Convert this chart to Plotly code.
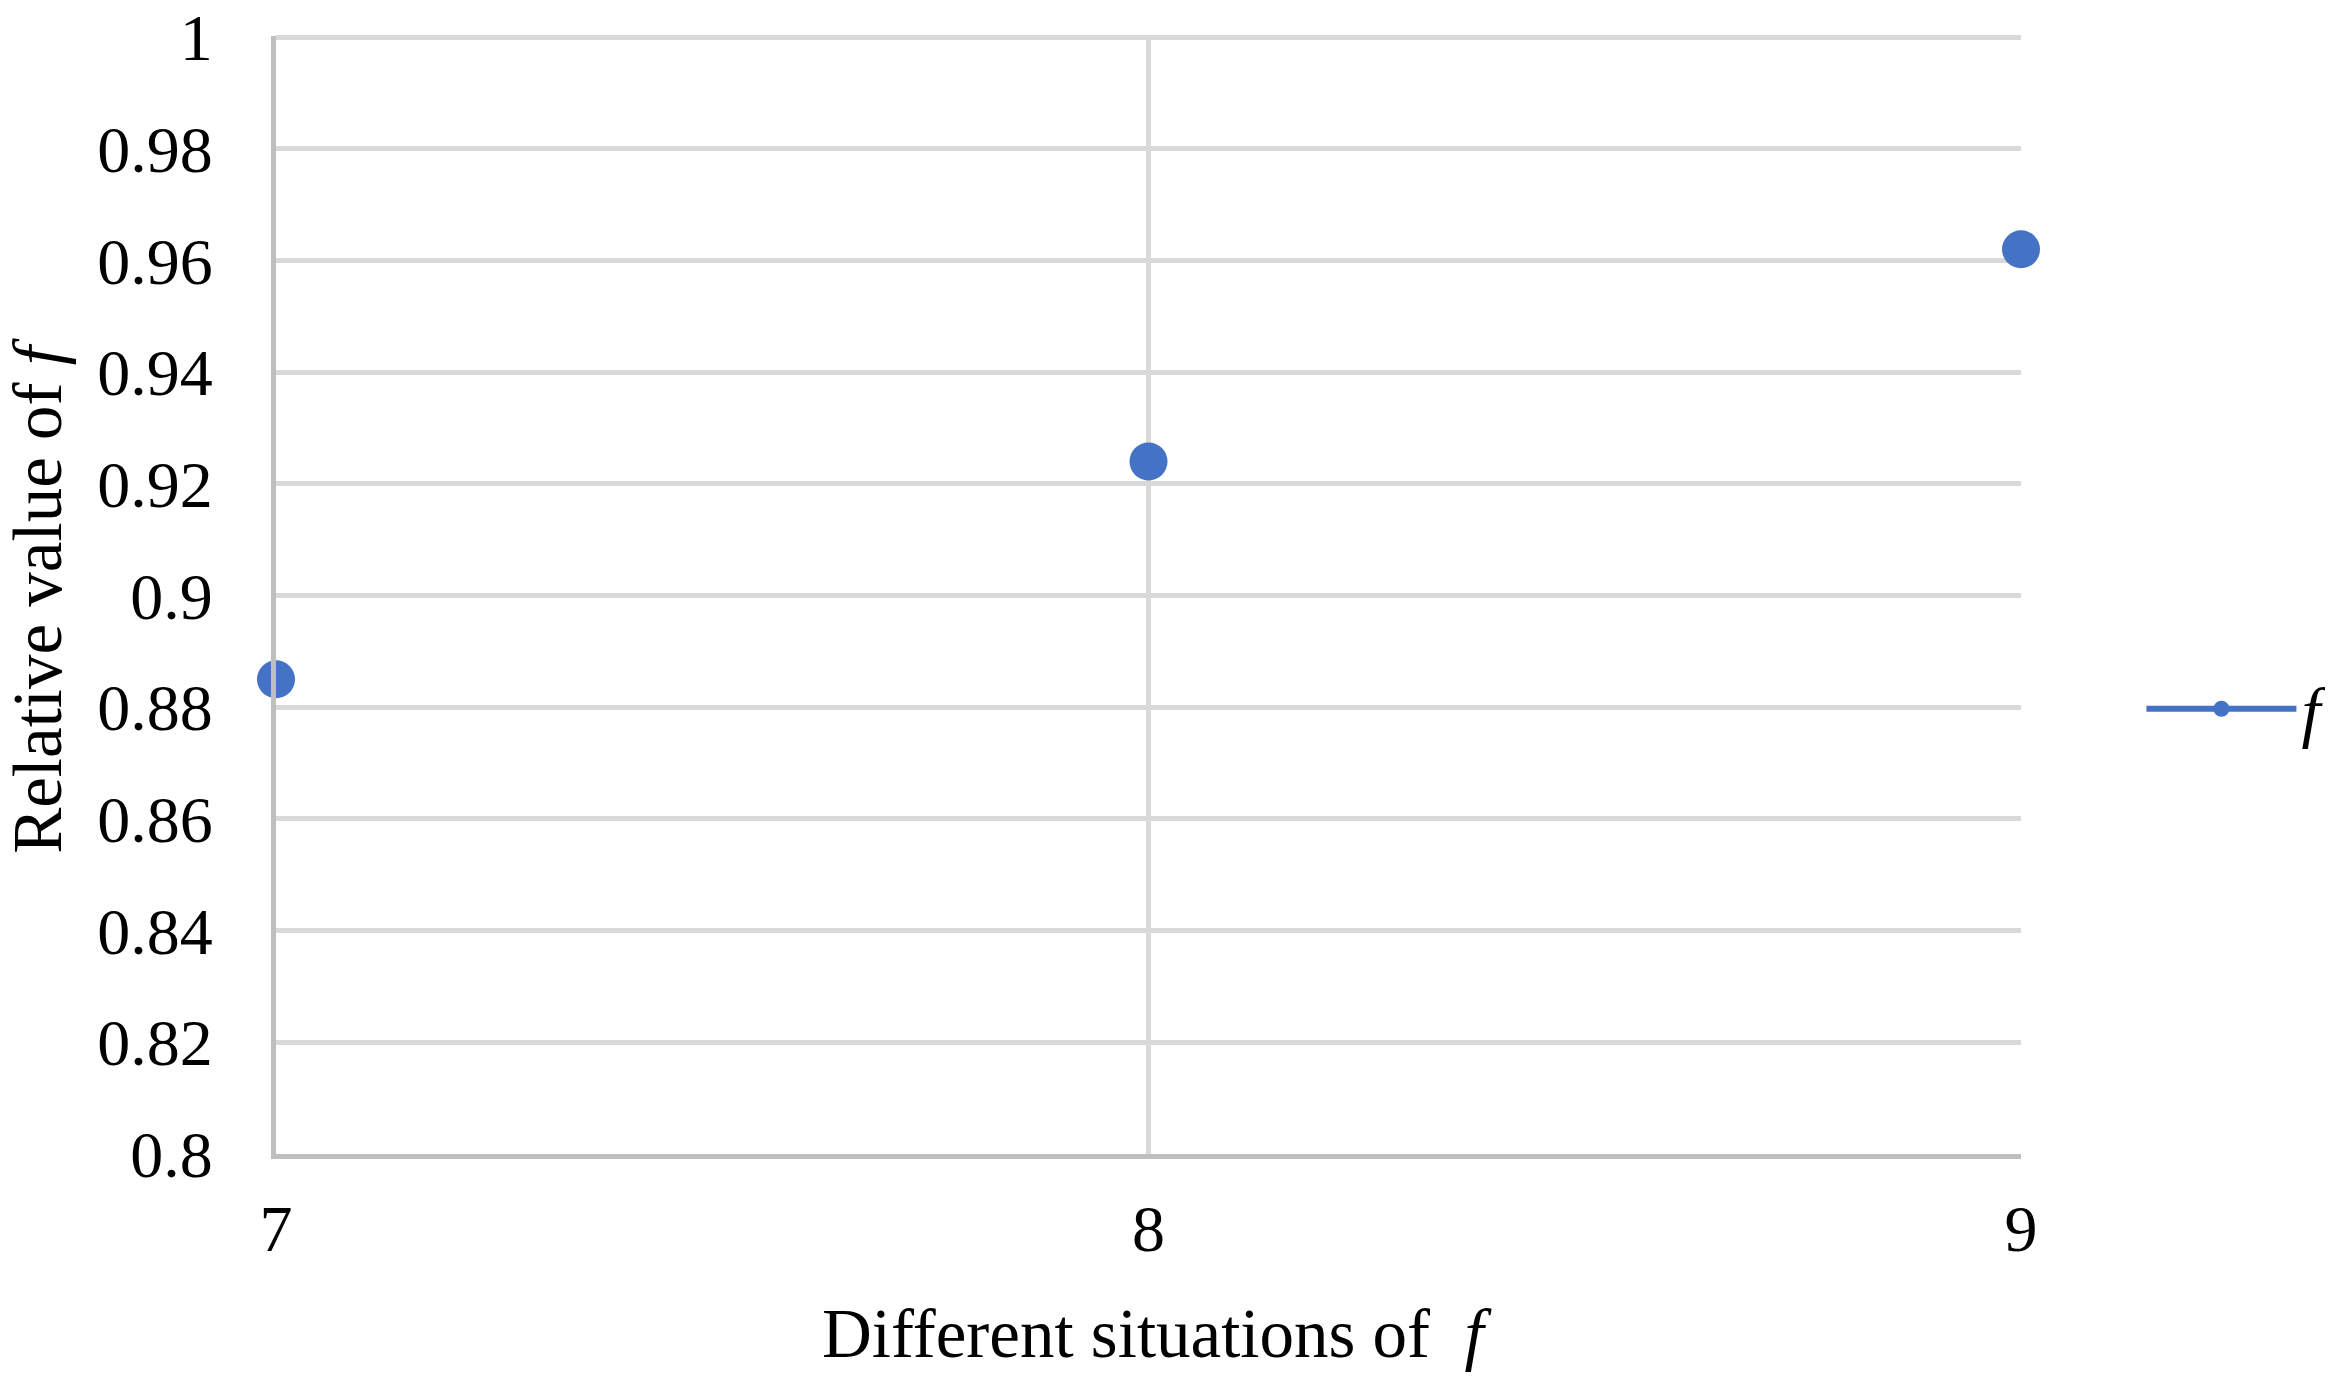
import plotly.graph_objects as go

# data
situations = [7, 8, 9]
relative_f = [0.885, 0.924, 0.962]
y_ticks = [0.8, 0.82, 0.84, 0.86, 0.88, 0.9, 0.92, 0.94, 0.96, 0.98, 1]
y_tick_text = ["0.8", "0.82", "0.84", "0.86", "0.88", "0.9", "0.92", "0.94", "0.96", "0.98", "1"]

BLUE = "#4472C4"
FONT = "Liberation Serif, Times New Roman, serif"

fig = go.Figure()
fig.add_trace(go.Scatter(
    x=situations, y=relative_f,
    mode="markers",
    marker=dict(color=BLUE, size=38),
    cliponaxis=False,
    showlegend=False,
))
# legend entry (line + marker, like the source)
fig.add_trace(go.Scatter(
    x=[None], y=[None],
    mode="lines+markers",
    name="<i>f</i>",
    line=dict(color=BLUE, width=6),
    marker=dict(color=BLUE, size=38),
))

fig.update_layout(
    width=2333, height=1378,
    paper_bgcolor="white", plot_bgcolor="white",
    font=dict(family=FONT, size=66, color="black"),
    margin=dict(l=268, r=320, t=28, b=232, autoexpand=False),
    legend=dict(
        x=1.069, y=0.398, xanchor="left", yanchor="middle",
        font=dict(size=68), itemwidth=150, bgcolor="rgba(0,0,0,0)",
    ),
    xaxis=dict(
        range=[7, 9], tickvals=situations, ticktext=[str(s) for s in situations],
        showgrid=True, gridcolor="#d9d9d9", gridwidth=5,
        showline=True, linecolor="#bfbfbf", linewidth=5,
        zeroline=False, ticks="", ticklabelstandoff=13, automargin=False,
    ),
    yaxis=dict(
        range=[0.8, 1.0002], tickvals=y_ticks, ticktext=y_tick_text,
        showgrid=True, gridcolor="#d9d9d9", gridwidth=5,
        showline=True, linecolor="#bfbfbf", linewidth=5,
        zeroline=False, ticks="", ticklabelstandoff=45, automargin=False,
        ticklabeloverflow="allow",
    ),
    annotations=[
        dict(text="Different situations of  <i>f</i>", xref="paper", yref="paper",
             x=0.505, y=-0.161, xanchor="center", yanchor="middle",
             showarrow=False, font=dict(size=69)),
        dict(text="Relative value of <i>f</i>", xref="paper", yref="paper",
             x=-0.1365, y=0.5, xanchor="center", yanchor="middle", textangle=-90,
             showarrow=False, font=dict(size=69)),
    ],
)

fig.write_html("out.html")
